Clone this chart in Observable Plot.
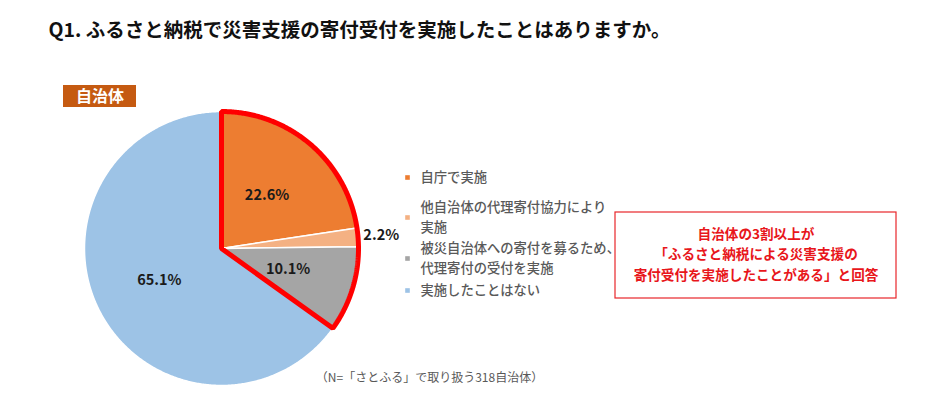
<!DOCTYPE html>
<html><head><meta charset="utf-8">
<script src="https://cdn.jsdelivr.net/npm/d3@7"></script>
<script src="https://cdn.jsdelivr.net/npm/@observablehq/plot@0.6"></script>
<style>
body{margin:0;background:#fff;}
svg{display:block;}
</style>
</head><body><div id="chart"></div>
<script>
// ---- data ----
const title = "Q1. ふるさと納税で災害支援の寄付受付を実施したことはありますか。";
const groupLabel = "自治体";
const categories = [["自庁で実施"], ["他自治体の代理寄付協力により", "実施"], ["被災自治体への寄付を募るため、", "代理寄付の受付を実施"], ["実施したことはない"]];
const values = [22.6, 2.2, 10.1, 65.1];
const colors = ["#ED7D31", "#F4B183", "#A5A5A5", "#9DC3E6"];
const highlighted = [true, true, true, false];
const calloutLines = ["自治体の3割以上が", "「ふるさと納税による災害支援の", "寄付受付を実施したことがある」と回答"];
const note = "（N=「さとふる」で取り扱う318自治体）";

// ---- layout ----
const W = 934, H = 411, cx = 221, cy = 248, R = 137;
const FONT = "'Noto Sans CJK JP', 'Noto Sans', sans-serif";
const legendX = 407, legendY = [177, 217, 258, 290], legendLH = 19.5;

const total = d3.sum(values);
let acc = 0;
const slices = values.map((v, i) => {
  const a0 = acc / total * 2 * Math.PI; acc += v;
  const a1 = acc / total * 2 * Math.PI;
  return {i, v, a0, a1, mid: (a0 + a1) / 2};
});
const pt = (a, r) => [cx + r * Math.sin(a), cy - r * Math.cos(a)];
function arcPoly(a0, a1) {
  const pts = [[cx, cy]];
  const n = Math.max(2, Math.ceil((a1 - a0) / (Math.PI / 360)));
  for (let k = 0; k <= n; k++) pts.push(pt(a0 + (a1 - a0) * k / n, R));
  return pts;
}
const hl = slices.filter((s, i) => highlighted[i]);
const outline = arcPoly(hl[0].a0, hl[hl.length - 1].a1);

const pctLabels = slices.map(s => {
  const small = s.v < 5;
  const [x, y] = pt(s.mid, small ? R * 1.17 : R * 0.51);
  return {x, y, text: s.v.toFixed(1) + "%"};
});

const legendMarks = categories.map((c, i) => ({x: legendX, y: legendY[i], color: colors[i]}));
const legendText = categories.flatMap((lines, i) =>
  lines.map((t, j) => ({x: legendX + 13, y: legendY[i] + (j - (lines.length - 1) / 2) * legendLH, text: t})));
const box = {x1: 615, x2: 896, y1: 212, y2: 298};
const callout = calloutLines.map((t, i) => ({x: (box.x1 + box.x2) / 2, y: 234 + i * 20.5, text: t}));

const marks = [
  ...slices.map(s => Plot.line(arcPoly(s.a0, s.a1), {curve: "linear-closed", fill: colors[s.i], stroke: "#fff", strokeWidth: 1.5})),
  Plot.line(outline, {curve: "linear-closed", fill: "none", stroke: "#FF0000", strokeWidth: 5, strokeLinejoin: "miter"}),
  Plot.text(pctLabels, {x: "x", y: "y", text: "text", fontFamily: FONT, fontWeight: "bold", fontSize: 14.5, fill: "#1a1a1a"}),
  Plot.rect([{x1: 63, x2: 136, y1: 85, y2: 107}], {x1: "x1", x2: "x2", y1: "y1", y2: "y2", fill: "#C55A11"}),
  Plot.text([groupLabel], {x: 99.5, y: 96, text: d => d, fill: "#fff", fontFamily: FONT, fontWeight: "bold", fontSize: 16}),
  Plot.text([title], {x: 48, y: 30, text: d => d, textAnchor: "start", fill: "#111", fontFamily: FONT, fontWeight: "bold", fontSize: 19.5}),
  Plot.dot(legendMarks, {x: "x", y: "y", symbol: "square", r: 2.6, fill: "color", stroke: null}),
  Plot.text(legendText, {x: "x", y: "y", text: "text", textAnchor: "start", fill: "#595959", fontFamily: FONT, fontWeight: 500, fontSize: 13.3}),
  Plot.rect([box], {x1: "x1", x2: "x2", y1: "y1", y2: "y2", fill: "none", stroke: "#E8262A", strokeWidth: 1.2}),
  Plot.text(callout, {x: "x", y: "y", text: "text", fill: "#E8161B", fontFamily: FONT, fontWeight: "bold", fontSize: 13.6}),
  Plot.text([note], {x: 429, y: 378, text: d => d, fill: "#595959", fontFamily: FONT, fontSize: 12})
];

const chart = Plot.plot({
  width: W, height: H, margin: 0,
  x: {domain: [0, W], range: [0, W], axis: null},
  y: {domain: [0, H], range: [0, H], axis: null},
  style: {background: "#fff", fontFamily: FONT, overflow: "visible"},
  marks
});
document.getElementById("chart").appendChild(chart);
</script>
</body></html>
